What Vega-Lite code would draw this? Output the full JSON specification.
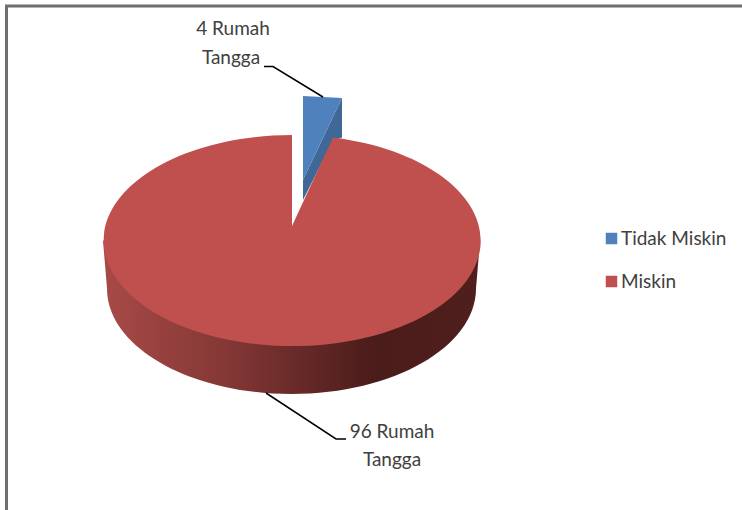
{
  "$schema": "https://vega.github.io/schema/vega-lite/v6.json",
  "width": 742,
  "height": 510,
  "padding": 0,
  "autosize": {"type": "none"},
  "background": "#ffffff",
  "config": {"view": {"stroke": null}},
  "datasets": {
    "slices": [
      {"category": "Tidak Miskin", "rumah_tangga": 4},
      {"category": "Miskin", "rumah_tangga": 96}
    ],
    "labels": [
      {"text": "4 Rumah", "px": 233, "py": 29},
      {"text": "Tangga", "px": 231, "py": 58},
      {"text": "96 Rumah", "px": 392, "py": 432},
      {"text": "Tangga", "px": 392, "py": 460}
    ],
    "leaders": [
      {"leader": "a", "step": 1, "px": 264, "py": 66.5},
      {"leader": "a", "step": 2, "px": 273, "py": 66.5},
      {"leader": "a", "step": 3, "px": 323, "py": 97},
      {"leader": "b", "step": 1, "px": 346, "py": 439},
      {"leader": "b", "step": 2, "px": 336, "py": 439},
      {"leader": "b", "step": 3, "px": 266, "py": 393}
    ],
    "frame": [
      {"side": "left", "step": 1, "px": 6.5, "py": 510},
      {"side": "left", "step": 2, "px": 6.5, "py": 6},
      {"side": "left", "step": 3, "px": 742, "py": 6}
    ]
  },
  "encoding": {
    "color": {
      "field": "category",
      "type": "nominal",
      "scale": {"domain": ["Tidak Miskin", "Miskin"], "range": ["#4f81bd", "#c0504d"]},
      "legend": {
        "title": null,
        "orient": "none",
        "legendX": 602,
        "legendY": 229,
        "symbolType": "square",
        "symbolSize": 132,
        "symbolOpacity": 1,
        "symbolStrokeWidth": 0,
        "labelFont": "Lato",
        "labelFontSize": 19,
        "labelColor": "#404040",
        "labelOffset": 0,
        "rowPadding": 23,
        "labelLimit": 200
      }
    }
  },
  "layer": [
    {
      "data": {"name": "frame"},
      "mark": {"type": "line", "strokeWidth": 3},
      "encoding": {
        "color": {"value": "#6f6f6f"},
        "x": {"field": "px", "type": "quantitative", "scale": {"domain": [0, 742], "nice": false}, "axis": null},
        "y": {"field": "py", "type": "quantitative", "scale": {"domain": [510, 0], "nice": false}, "axis": null},
        "order": {"field": "step"}
      }
    },
    {
      "data": {"name": "slices"},
      "transform": [{"filter": "datum.category === 'Tidak Miskin'"}],
      "mark": {"type": "point", "filled": true, "size": 4, "opacity": 1, "shape": "M50.5,-142.5 L50.5,-103 L41.5,-100 L11.5,-40.5 L11.5,-60.5 Z"},
      "encoding": {
        "color": {"value": "#3f6797"},
        "x": {"datum": 291.5, "type": "quantitative"},
        "y": {"datum": 240.5, "type": "quantitative"}
      }
    },
    {
      "data": {"name": "slices"},
      "transform": [{"filter": "datum.category === 'Miskin'"}],
      "mark": {
        "type": "point", "filled": true, "size": 4, "opacity": 1,
        "shape": "M-188.5,0 L-184.5,48 A184.5,105.5 0 0,0 184.5,48 L188.5,0 Z"
      },
      "encoding": {
        "color": {"value": {
          "gradient": "linear", "x1": 0, "y1": 0, "x2": 1, "y2": 0,
          "stops": [
            {"offset": 0, "color": "#a84a47"},
            {"offset": 0.32, "color": "#853836"},
            {"offset": 0.72, "color": "#4a1c1a"},
            {"offset": 1, "color": "#501f1d"}
          ]
        }},
        "x": {"datum": 291.5, "type": "quantitative"},
        "y": {"datum": 240.5, "type": "quantitative"}
      }
    },
    {
      "data": {"name": "slices"},
      "transform": [{"filter": "datum.category === 'Tidak Miskin'"}],
      "mark": {"type": "point", "filled": true, "size": 4, "opacity": 1, "shape": "M11.5,-144.5 L50.5,-142.5 L11.5,-60.5 Z"},
      "encoding": {
        "x": {"datum": 291.5, "type": "quantitative"},
        "y": {"datum": 240.5, "type": "quantitative"}
      }
    },
    {
      "data": {"name": "slices"},
      "transform": [{"filter": "datum.category === 'Miskin'"}],
      "mark": {"type": "point", "filled": true, "size": 4, "opacity": 1, "shape": "M0.5,-14.5 L0.5,-105.5 A188.5,105.5 0 1,0 41.5,-103 Z"},
      "encoding": {
        "x": {"datum": 291.5, "type": "quantitative"},
        "y": {"datum": 240.5, "type": "quantitative"}
      }
    },
    {
      "data": {"name": "leaders"},
      "mark": {"type": "line", "strokeWidth": 1.5},
      "encoding": {
        "color": {"value": "#000000"},
        "x": {"field": "px", "type": "quantitative"},
        "y": {"field": "py", "type": "quantitative"},
        "detail": {"field": "leader"},
        "order": {"field": "step"}
      }
    },
    {
      "data": {"name": "labels"},
      "mark": {"type": "text", "font": "Lato", "fontSize": 19, "align": "center", "baseline": "middle"},
      "encoding": {
        "color": {"value": "#404040"},
        "x": {"field": "px", "type": "quantitative"},
        "y": {"field": "py", "type": "quantitative"},
        "text": {"field": "text"}
      }
    }
  ]
}
